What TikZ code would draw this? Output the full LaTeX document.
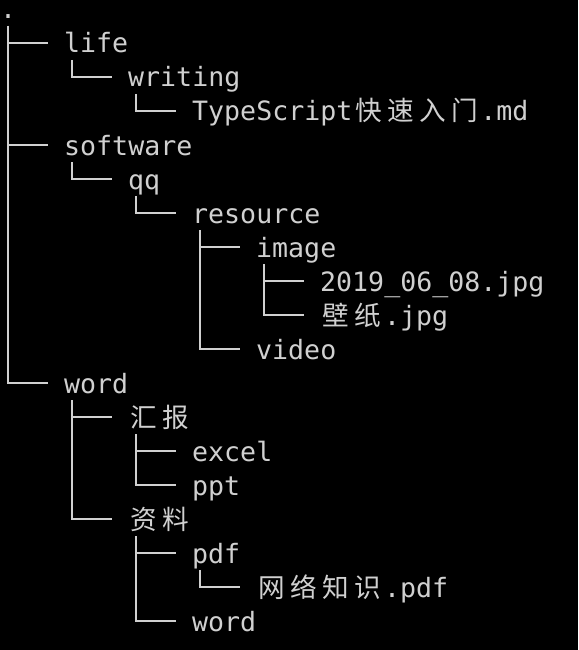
\documentclass[tikz,border=0pt]{standalone}
\usepackage{fontspec}
\newfontfamily\termfont{DejaVu Sans Mono}
\newfontfamily\cjkfont{Noto Sans CJK SC}
\usetikzlibrary{calc}
\definecolor{termbg}{HTML}{000000}
\definecolor{termfg}{HTML}{D0D0D0}
\makeatletter
% each CJK character takes two terminal cells
\newcommand\wide[1]{\@tfor\wch:=#1\do{\makebox[32pt]{\cjkfont\wch}}}
\makeatother

\begin{document}
\begin{tikzpicture}[
    x=1pt, y=-1pt,
    entry/.style={anchor=base west, inner sep=0pt, text=termfg, font=\termfont\fontsize{26.6}{34}\selectfont},
    tree/.style={draw=termfg, line width=1.8pt}
]
\fill[termbg] (0,0) rectangle (578,650);
\useasboundingbox (0,0) rectangle (578,650);

\node[entry] (root) at (0,19) {.};
\node[entry] (life) at (64,53) {life};
\node[entry] (writing) at (128,87) {writing};
\node[entry] (ts) at (192,121) {TypeScript\wide{快速入门}.md};
\node[entry] (software) at (64,155) {software};
\node[entry] (qq) at (128,189) {qq};
\node[entry] (resource) at (192,223) {resource};
\node[entry] (image) at (256,257) {image};
\node[entry] (photo) at (320,291) {2019\_06\_08.jpg};
\node[entry] (wall) at (320,325) {\wide{壁纸}.jpg};
\node[entry] (video) at (256,359) {video};
\node[entry] (word) at (64,393) {word};
\node[entry] (report) at (128,427) {\wide{汇报}};
\node[entry] (excel) at (192,461) {excel};
\node[entry] (ppt) at (192,495) {ppt};
\node[entry] (docs) at (128,529) {\wide{资料}};
\node[entry] (pdf) at (192,563) {pdf};
\node[entry] (net) at (256,597) {\wide{网络知识}.pdf};
\node[entry] (wordfile) at (192,631) {word};

\draw[tree] (root.base west) ++(8,7) |- ($(life.base west)+(-16,-10)$);
\draw[tree] (root.base west) ++(8,7) |- ($(software.base west)+(-16,-10)$);
\draw[tree] (root.base west) ++(8,7) |- ($(word.base west)+(-16,-10)$);
\draw[tree] (life.base west) ++(8,7) |- ($(writing.base west)+(-16,-10)$);
\draw[tree] (writing.base west) ++(8,7) |- ($(ts.base west)+(-16,-10)$);
\draw[tree] (software.base west) ++(8,7) |- ($(qq.base west)+(-16,-10)$);
\draw[tree] (qq.base west) ++(8,7) |- ($(resource.base west)+(-16,-10)$);
\draw[tree] (resource.base west) ++(8,7) |- ($(image.base west)+(-16,-10)$);
\draw[tree] (resource.base west) ++(8,7) |- ($(video.base west)+(-16,-10)$);
\draw[tree] (image.base west) ++(8,7) |- ($(photo.base west)+(-16,-10)$);
\draw[tree] (image.base west) ++(8,7) |- ($(wall.base west)+(-16,-10)$);
\draw[tree] (word.base west) ++(8,7) |- ($(report.base west)+(-16,-10)$);
\draw[tree] (word.base west) ++(8,7) |- ($(docs.base west)+(-16,-10)$);
\draw[tree] (report.base west) ++(8,7) |- ($(excel.base west)+(-16,-10)$);
\draw[tree] (report.base west) ++(8,7) |- ($(ppt.base west)+(-16,-10)$);
\draw[tree] (docs.base west) ++(8,7) |- ($(pdf.base west)+(-16,-10)$);
\draw[tree] (docs.base west) ++(8,7) |- ($(wordfile.base west)+(-16,-10)$);
\draw[tree] (pdf.base west) ++(8,7) |- ($(net.base west)+(-16,-10)$);
\end{tikzpicture}
\end{document}
